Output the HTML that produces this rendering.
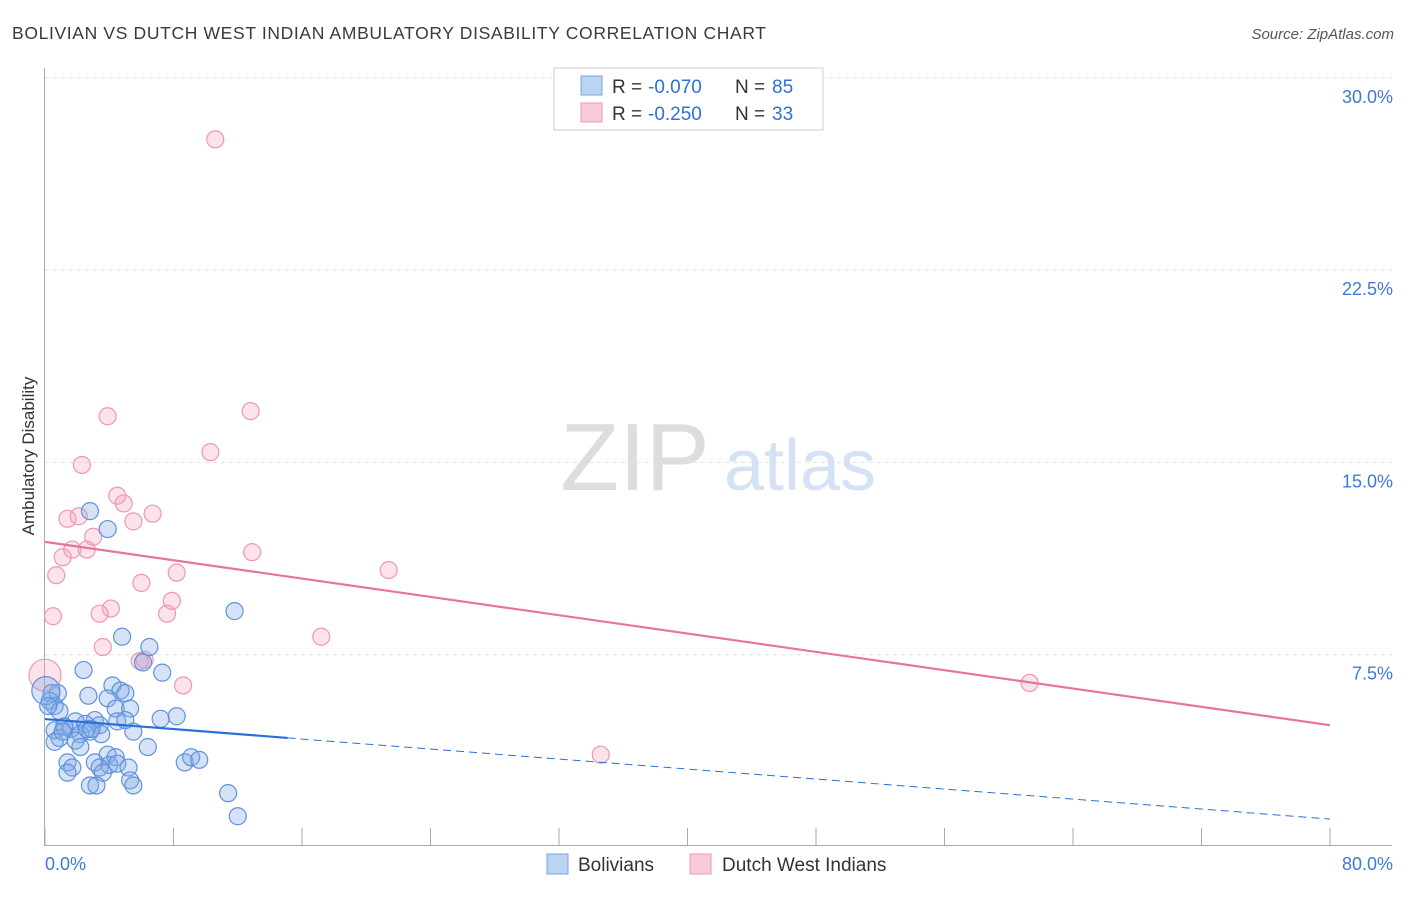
<!DOCTYPE html>
<html><head><meta charset="utf-8"><style>
body{margin:0;background:#fff;font-family:"Liberation Sans",sans-serif;}
svg text{font-family:"Liberation Sans",sans-serif;}
</style></head><body>
<svg id="chart" width="1406" height="892" xmlns="http://www.w3.org/2000/svg">
<text x="12" y="39" font-size="17.5" fill="#3a3a3a" textLength="754" lengthAdjust="spacing">BOLIVIAN VS DUTCH WEST INDIAN AMBULATORY DISABILITY CORRELATION CHART</text>
<text x="1394" y="39" font-size="15" fill="#555" text-anchor="end" font-style="italic">Source: ZipAtlas.com</text>
<text transform="translate(34,456) rotate(-90)" font-size="17" fill="#333" text-anchor="middle">Ambulatory Disability</text>
<g>
<text x="635" y="490" font-size="96" fill="#dddddd" font-family="Liberation Serif" text-anchor="middle">ZIP</text>
<text x="800" y="490" font-size="72" fill="#d4e2f4" text-anchor="middle">atlas</text>
</g>
<g id="grid"></g><g id="axes"></g><g id="pts"></g><g id="lines"></g>
<g>
<rect x="554" y="68" width="269" height="62" fill="#fff" stroke="#ccc"/>
<rect x="581" y="76" width="21" height="19" fill="#bcd4f4" stroke="#7aa4e0"/>
<rect x="581" y="103" width="21" height="19" fill="#f9cad8" stroke="#ee9ab5"/>
<text x="612" y="93" font-size="19" fill="#333">R =</text>
<text x="648" y="93" font-size="19" fill="#2f6fd6">-0.070</text>
<text x="735" y="93" font-size="19" fill="#333">N =</text>
<text x="772" y="93" font-size="19" fill="#2f6fd6">85</text>
<text x="612" y="120" font-size="19" fill="#333">R =</text>
<text x="648" y="120" font-size="19" fill="#2f6fd6">-0.250</text>
<text x="735" y="120" font-size="19" fill="#333">N =</text>
<text x="772" y="120" font-size="19" fill="#2f6fd6">33</text>
</g>
<g>
<rect x="547" y="854" width="21" height="20" fill="#bcd4f4" stroke="#7aa4e0"/>
<text x="578" y="871" font-size="19" fill="#333">Bolivians</text>
<rect x="690" y="854" width="21" height="20" fill="#f9cad8" stroke="#ee9ab5"/>
<text x="722" y="871" font-size="19" fill="#333">Dutch West Indians</text>
</g>
</svg>
<script>
const xTicks=[0,8,16,24,32,40,48,56,64,72,80];
const yTicks=[7.5,15,22.5,30];
const yTickLabels=["7.5%","15.0%","22.5%","30.0%"];
const bolX=[2.8,3.9,11.8,4.8,6.5,2.4,7.3,6.1,4.2,4.7,5.0,2.7,3.9,4.4,5.3,0.4,0.8,0.3,0.6,0.9,7.2,8.2,3.1,2.5,1.9,3.4,1.2,1.6,0.6,0.9,2.2,2.8,3.5,5.5,1.9,0.6,2.2,6.4,3.9,4.4,3.1,1.4,1.7,3.4,4.0,4.5,5.2,8.7,9.1,9.6,1.4,3.6,2.8,3.2,5.3,5.5,11.4,12.0,2.6,1.2,0.05,0.2,1.1,2.9,4.5,5.0];
const bolY=[13.1,12.4,9.2,8.2,7.8,6.9,6.8,7.2,6.3,6.1,6.0,5.9,5.8,5.4,5.4,6.0,6.0,5.7,5.5,5.3,5.0,5.1,4.95,4.8,4.9,4.75,4.7,4.6,4.55,4.25,4.4,4.5,4.4,4.5,4.15,4.1,3.9,3.9,3.6,3.5,3.3,3.3,3.1,3.1,3.2,3.25,3.1,3.3,3.5,3.4,2.9,2.9,2.4,2.4,2.6,2.4,2.1,1.2,4.6,4.7,6.1,5.5,4.5,4.6,4.9,4.95];
const dwiX=[10.6,3.9,12.8,2.3,10.3,4.5,4.9,1.4,2.1,6.7,5.5,3.0,1.7,2.6,1.1,12.9,0.7,8.2,21.4,6.0,7.9,4.1,3.4,7.6,0.5,3.6,17.2,6.2,5.9,0.0,8.6,61.3,34.6];
const dwiY=[27.6,16.8,17.0,14.9,15.4,13.7,13.4,12.8,12.9,13.0,12.7,12.1,11.6,11.6,11.3,11.5,10.6,10.7,10.8,10.3,9.6,9.3,9.1,9.1,9.0,7.8,8.2,7.3,7.25,6.7,6.3,6.4,3.6];
const bolTrend=[4.99,1.09];
const dwiTrend=[11.9,4.75];
const X=v=>45+v/80*1285, Y=v=>847-v*25.64;
const NS="http://www.w3.org/2000/svg";
function mk(tag,parent,attrs){const e=document.createElementNS(NS,tag);for(const k in attrs)e.setAttribute(k,attrs[k]);document.getElementById(parent).appendChild(e);return e;}
yTicks.forEach((t,i)=>{
 const g=mk('line','grid',{x1:45,x2:1392,y1:Y(t),y2:Y(t),stroke:'#e2e2e2','stroke-dasharray':'4,4'});
 
 
 const l=mk('text','grid',{x:1393,y:Y(t)+25,'font-size':18,fill:'#3f78d8','text-anchor':'end'});l.textContent=yTickLabels[i];
 
 
});
const ax=mk('line','axes',{x1:44.5,x2:44.5,y1:68,y2:846,stroke:'#aaa'});


const bx=mk('line','axes',{x1:44,x2:1392,y1:845.5,y2:845.5,stroke:'#aaa'});


xTicks.forEach(t=>{const k=mk('line','axes',{x1:X(t),x2:X(t),y1:828,y2:846,stroke:'#aaa'});
 
 });
const xl0=mk('text','axes',{x:45,y:870,'font-size':18,fill:'#3f78d8'});xl0.textContent=xTicks[0].toFixed(1)+'%';


const xl1=mk('text','axes',{x:1393,y:870,'font-size':18,fill:'#3f78d8','text-anchor':'end'});xl1.textContent=xTicks[10].toFixed(1)+'%';


dwiX.forEach((v,i)=>{const c=mk('circle','pts',{cx:X(v),cy:Y(dwiY[i]),r:(v<0.1?16:8.5),fill:'rgba(244,160,188,0.3)',stroke:'#ee97b3','stroke-width':1.2});
 
 });
bolX.forEach((v,i)=>{const c=mk('circle','pts',{cx:X(v),cy:Y(bolY[i]),r:(v<0.1?14:8.5),fill:'rgba(130,170,232,0.33)',stroke:'#5f92dc','stroke-width':1.2});
 
 });
const by=v=>bolTrend[0]+(bolTrend[1]-bolTrend[0])*v/80;
const bl=mk('line','lines',{x1:X(0),y1:Y(by(0)),x2:X(15.1),y2:Y(by(15.1)),stroke:'#2a6fd6','stroke-width':2.2});


const bd=mk('line','lines',{x1:X(15.1),y1:Y(by(15.1)),x2:X(80),y2:Y(by(80)),stroke:'#2a6fd6','stroke-width':1,'stroke-dasharray':'8,5'});


const pl=mk('line','lines',{x1:X(0),y1:Y(dwiTrend[0]),x2:X(80),y2:Y(dwiTrend[1]),stroke:'#e8739c','stroke-width':2.2});


</script>
</body></html>
